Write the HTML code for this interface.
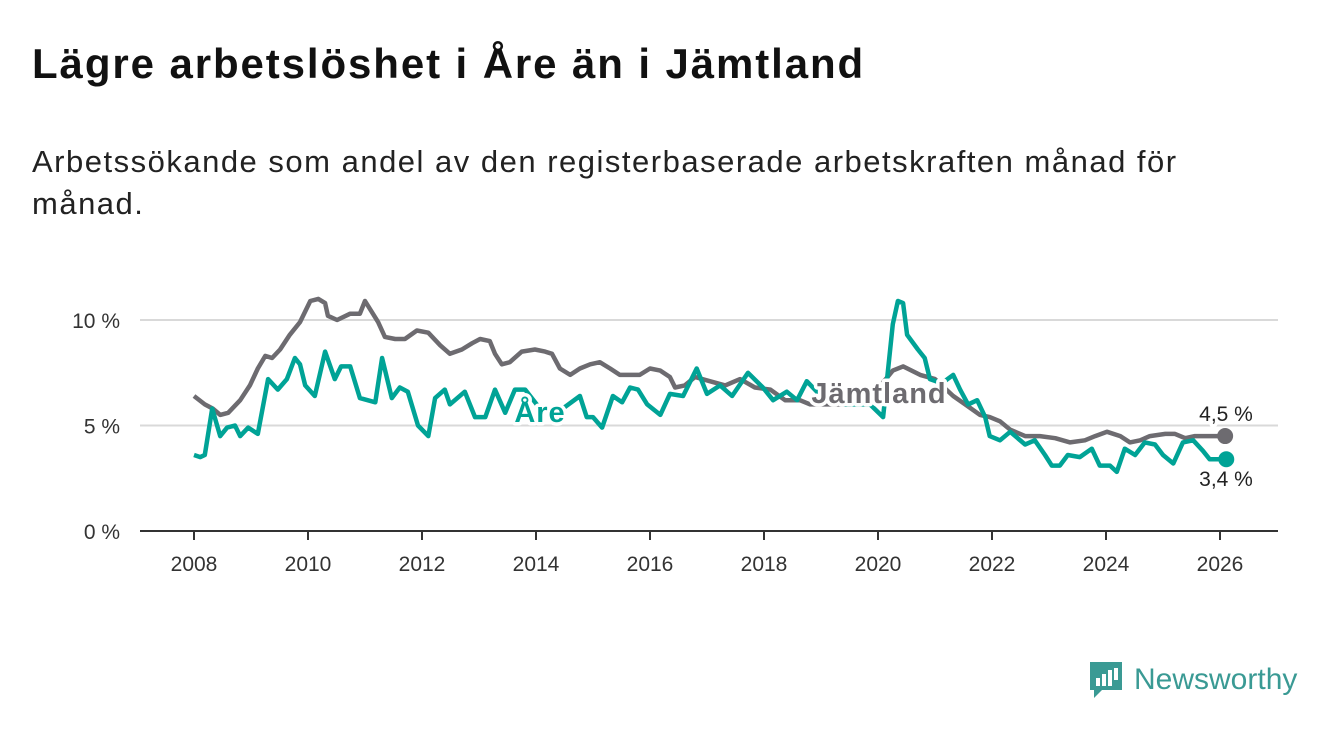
<!DOCTYPE html>
<html><head><meta charset="utf-8"><style>
body{margin:0;background:#fff;width:1340px;height:734px;overflow:hidden;font-family:"Liberation Sans",sans-serif}
h1{position:absolute;left:32px;top:40px;margin:0;font-size:42px;letter-spacing:1.9px;font-weight:bold;color:#111}
.sub{position:absolute;left:32px;top:141px;margin:0;font-size:31px;letter-spacing:1.5px;line-height:42px;color:#222;width:1220px}
svg{position:absolute;left:0;top:0}
</style></head><body>
<h1>Lägre arbetslöshet i Åre än i Jämtland</h1>
<p class="sub">Arbetssökande som andel av den registerbaserade arbetskraften månad för månad.</p>
<svg id="chart" width="1340" height="734"></svg>
<div style="position:absolute;left:1088px;top:660px;display:flex;align-items:center">
<svg width="36" height="40" style="position:static"><path d="M2 2h32v28H14l-8 8v-8H2z" fill="#3a9a94"/><rect x="8" y="18" width="4" height="8" fill="#fff"/><rect x="14" y="14" width="4" height="12" fill="#fff"/><rect x="20" y="10" width="4" height="16" fill="#fff"/><rect x="26" y="8" width="4" height="12" fill="#fff"/></svg>
<span style="font-size:30px;color:#3a9a94;margin-left:10px">Newsworthy</span></div>
<script>
const jYears=[2008.00,2008.19,2008.33,2008.46,2008.60,2008.81,2008.98,2009.12,2009.25,2009.37,2009.51,2009.68,2009.86,2010.04,2010.18,2010.30,2010.35,2010.51,2010.74,2010.91,2011.00,2011.23,2011.35,2011.53,2011.70,2011.91,2012.11,2012.32,2012.49,2012.70,2012.88,2013.02,2013.19,2013.28,2013.40,2013.54,2013.75,2013.98,2014.16,2014.28,2014.42,2014.60,2014.77,2014.95,2015.12,2015.30,2015.47,2015.82,2016.00,2016.18,2016.35,2016.44,2016.61,2016.79,2017.05,2017.32,2017.58,2017.84,2018.11,2018.37,2018.63,2018.81,2019.16,2019.51,2019.86,2020.26,2020.44,2020.74,2021.00,2021.32,2021.53,2021.79,2021.96,2022.14,2022.32,2022.58,2022.84,2023.11,2023.37,2023.63,2023.81,2024.02,2024.25,2024.42,2024.60,2024.77,2025.04,2025.21,2025.39,2025.56,2025.91,2026.09];
const jValues=[6.4,6.0,5.8,5.5,5.6,6.2,6.9,7.7,8.3,8.2,8.6,9.3,9.9,10.9,11.0,10.8,10.2,10.0,10.3,10.3,10.9,9.9,9.2,9.1,9.1,9.5,9.4,8.8,8.4,8.6,8.9,9.1,9.0,8.4,7.9,8.0,8.5,8.6,8.5,8.4,7.7,7.4,7.7,7.9,8.0,7.7,7.4,7.4,7.7,7.6,7.3,6.8,6.9,7.3,7.1,6.9,7.2,6.8,6.7,6.2,6.2,6.0,6.0,6.0,6.3,7.6,7.8,7.4,7.2,6.4,6.0,5.5,5.4,5.2,4.8,4.5,4.5,4.4,4.2,4.3,4.5,4.7,4.5,4.2,4.3,4.5,4.6,4.6,4.4,4.5,4.5,4.5];
const aYears=[2008.00,2008.11,2008.19,2008.32,2008.46,2008.58,2008.72,2008.81,2008.95,2009.12,2009.30,2009.47,2009.63,2009.77,2009.86,2009.95,2010.12,2010.30,2010.47,2010.58,2010.74,2010.91,2011.18,2011.30,2011.47,2011.61,2011.75,2011.93,2012.11,2012.23,2012.40,2012.49,2012.75,2012.93,2013.11,2013.28,2013.46,2013.63,2013.81,2014.07,2014.33,2014.42,2014.77,2014.89,2015.00,2015.16,2015.35,2015.51,2015.65,2015.79,2015.95,2016.18,2016.35,2016.58,2016.82,2017.00,2017.23,2017.44,2017.72,2017.98,2018.16,2018.40,2018.58,2018.75,2019.07,2019.42,2019.86,2020.09,2020.26,2020.35,2020.44,2020.51,2020.70,2020.82,2020.91,2021.12,2021.32,2021.44,2021.58,2021.74,2021.88,2021.96,2022.14,2022.32,2022.58,2022.75,2022.93,2023.05,2023.19,2023.33,2023.54,2023.75,2023.89,2024.07,2024.19,2024.33,2024.51,2024.68,2024.86,2025.00,2025.18,2025.35,2025.53,2025.70,2025.82,2026.00,2026.11];
const aValues=[3.6,3.5,3.6,5.8,4.5,4.9,5.0,4.5,4.9,4.6,7.2,6.7,7.2,8.2,7.9,6.9,6.4,8.5,7.2,7.8,7.8,6.3,6.1,8.2,6.3,6.8,6.6,5.0,4.5,6.3,6.7,6.0,6.6,5.4,5.4,6.7,5.6,6.7,6.7,5.8,5.6,5.7,6.4,5.4,5.4,4.9,6.4,6.1,6.8,6.7,6.0,5.5,6.5,6.4,7.7,6.5,6.9,6.4,7.5,6.8,6.2,6.6,6.2,7.1,6.2,6.0,6.0,5.4,9.8,10.9,10.8,9.3,8.6,8.2,7.2,7.0,7.4,6.7,6.0,6.2,5.4,4.5,4.3,4.7,4.1,4.3,3.6,3.1,3.1,3.6,3.5,3.9,3.1,3.1,2.8,3.9,3.6,4.2,4.1,3.6,3.2,4.2,4.3,3.8,3.4,3.4,3.4];
const xTicks=[2008,2010,2012,2014,2016,2018,2020,2022,2024,2026];
const yTicks=[0,5,10];
const yTickLabels=["0 %","5 %","10 %"];
const NS="http://www.w3.org/2000/svg",svg=document.getElementById('chart');
const X=y=>194+(y-2008)*57, Y=v=>531-v*21.1;
function mk(t,a,p){const e=document.createElementNS(NS,t);for(const k in a)e.setAttribute(k,a[k]);(p||svg).appendChild(e);return e;}
yTicks.forEach((v,i)=>{
  if(v>0){const g=mk('line',{x1:140,x2:1278,y1:Y(v),y2:Y(v),stroke:'#d9d9d9','stroke-width':2});
  
  }
  const t=mk('text',{x:120,y:Y(v)+8,'text-anchor':'end','font-size':21,fill:'#333'});t.textContent=yTickLabels[i];
  
  
});
const base=mk('line',{x1:140,x2:1278,y1:531,y2:531,stroke:'#333','stroke-width':2});


xTicks.forEach(y=>{
  const tk=mk('line',{x1:X(y),x2:X(y),y1:531,y2:540,stroke:'#333','stroke-width':2});
  
  
  const t=mk('text',{x:X(y),y:571,'text-anchor':'middle','font-size':21,fill:'#333'});t.textContent=y;
  
  
});
function line(xs,vs,c,name){
  const p=mk('path',{d:xs.map((x,i)=>(i?'L':'M')+X(x).toFixed(1)+','+Y(vs[i]).toFixed(1)).join(''),fill:'none',stroke:c,'stroke-width':4.5,'stroke-linejoin':'round'});
  
  
  const d=mk('circle',{cx:X(xs[xs.length-1]),cy:Y(vs[vs.length-1]),r:8,fill:c});
  
  
}
line(jYears,jValues,'#6d6b70','jamtland-line');
line(aYears,aValues,'#00a396','are-line');
function lab(x,y,txt,c,sz,w,name,ls){
  const t=mk('text',{x,y,'text-anchor':'middle','font-size':sz,'font-weight':w,fill:c,stroke:'#fff','stroke-width':7,'paint-order':'stroke','stroke-linejoin':'round','letter-spacing':ls||0});
  t.textContent=txt;
  
  
}
lab(879,403,'Jämtland','#6d6b70',29,'bold','jamtland-label',1);
lab(540,422,'Åre','#00a396',29,'bold','are-label',1);
lab(1226,421,'4,5 %','#222',21,'normal','jamtland-end-value');
lab(1226,486,'3,4 %','#222',21,'normal','are-end-value');
</script>
</body></html>
